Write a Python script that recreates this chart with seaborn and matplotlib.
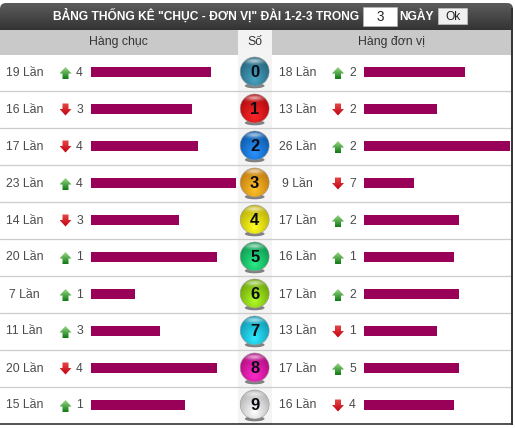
import numpy as np
import pandas as pd
import matplotlib
matplotlib.use("Agg")
import matplotlib.pyplot as plt
from matplotlib.patches import Circle, Ellipse, FancyBboxPatch, Polygon, Rectangle
import seaborn as sns

digits = ["0", "1", "2", "3", "4", "5", "6", "7", "8", "9"]
tens_counts = [19, 16, 17, 23, 14, 20, 7, 11, 20, 15]
tens_gaps = [4, 3, 4, 4, 3, 1, 1, 3, 4, 1]
tens_trend = ["up", "down", "down", "up", "down", "up", "up", "up", "down", "up"]
unit_counts = [18, 13, 26, 9, 17, 16, 17, 13, 17, 16]
unit_gaps = [2, 2, 2, 7, 2, 1, 2, 1, 5, 4]
unit_trend = ["up", "down", "up", "down", "up", "up", "up", "down", "up", "down"]
ball_colors = ["#2f85a3", "#e80d10", "#0f74dc", "#ffa010", "#f8e808",
               "#10c868", "#90d80c", "#14c8ee", "#e810a8", "#efefef"]

W, H = 515, 428
ROW_TOP, ROW_H = 53.5, 37.0
BAR_COLOR = "#990057"
TEXT = "#4a4a4a"

sns.set_theme(style="white")
plt.rcParams["font.family"] = ["Liberation Sans", "DejaVu Sans"]

fig = plt.figure(figsize=(W / 100, H / 100), dpi=100, facecolor="white")
canvas = fig.add_axes([0, 0, 1, 1])
canvas.set_xlim(0, W)
canvas.set_ylim(H, 0)
canvas.axis("off")


def px(size):
    return size * 0.72


def rgb(hex_color):
    return np.array(matplotlib.colors.to_rgb(hex_color))


def draw_ball(cx, cy, r, color, label):
    canvas.add_patch(Ellipse((cx, cy + r - 0.2), 2 * r * 0.68, 5, color="#333333", alpha=0.6, lw=0, zorder=3))
    yy, xx = np.mgrid[-1:1:96j, -1:1:96j]
    base = rgb(color)
    dark = base * 0.74
    bright = np.clip(base * 1.05 + 0.10, 0, 1)
    t = np.clip(np.hypot(xx, (yy - 0.5) * 0.85) / 1.3, 0, 1)[..., None]
    img = bright * (1 - t) + dark * t
    gloss = np.exp(-((xx / 0.62) ** 2 + ((yy + 0.74) / 0.18) ** 2))[..., None]
    img = np.clip(img * (1 - 0.6 * gloss) + 0.6 * gloss, 0, 1)
    im = canvas.imshow(img, extent=(cx - r, cx + r, cy + r, cy - r), zorder=4, aspect="auto", interpolation="bilinear")
    im.set_clip_path(Circle((cx, cy), r, transform=canvas.transData))
    canvas.add_patch(Circle((cx, cy), r, fill=False, ec="#9a9a9a", lw=0.4, zorder=5))
    canvas.text(cx, cy + 0.7, label, ha="center", va="center", fontsize=px(16.5), fontweight="bold", color="#0a0a14", zorder=6)


def draw_arrow(cx, cy, trend):
    # Small block arrow next to each gap figure, shaded from top to bottom
    if trend == "up":
        pts = [(cx, cy - 5), (cx + 6, cy + 1.5), (cx + 3, cy + 1.5), (cx + 3, cy + 7),
               (cx - 3, cy + 7), (cx - 3, cy + 1.5), (cx - 6, cy + 1.5)]
        top, bottom = rgb("#a4e08c"), rgb("#0f7a14")
    else:
        pts = [(cx, cy + 6.5), (cx + 6, cy), (cx + 3, cy), (cx + 3, cy - 5.5),
               (cx - 3, cy - 5.5), (cx - 3, cy), (cx - 6, cy)]
        top, bottom = rgb("#e84848"), rgb("#c00010")
    ramp = np.linspace(0, 1, 32)[:, None, None]
    shade = top * (1 - ramp) + bottom * ramp
    im = canvas.imshow(shade, extent=(cx - 6, cx + 6, cy + 7, cy - 5.5), aspect="auto", zorder=3)
    im.set_clip_path(Polygon(pts, closed=True, transform=canvas.transData))


# Header band with its vertical dark gradient
gradient = np.linspace(0.36, 0.20, 64)[:, None, None] * np.ones((64, 1, 3))
head = canvas.imshow(gradient, extent=(0, 513, 30, 3), aspect="auto", zorder=1)
head.set_clip_path(FancyBboxPatch((0, 3), 513, 40, boxstyle="round,pad=0,rounding_size=6", transform=canvas.transData))

# Column heading row and the pale column behind the balls
canvas.add_patch(Rectangle((0, 30), 512, 24.5, fc="#c9c9c9", ec="none", zorder=1))
canvas.add_patch(Rectangle((238, 30), 34, 24.5, fc="#f3f3f3", ec="none", zorder=1))
canvas.add_patch(Rectangle((238, 54.5), 34, 370, fc="#f4f4f4", ec="none", zorder=1))

# Outer frame on the right and bottom
canvas.plot([512.3, 512.3], [8, 424.5], color="#333333", lw=1.4, zorder=7, solid_capstyle="butt")
canvas.plot([0, 513], [424.3, 424.3], color="#333333", lw=1.2, zorder=7, solid_capstyle="butt")

canvas.text(206, 15.5, 'BẢNG THỐNG KÊ "CHỤC - ĐƠN VỊ" ĐÀI 1-2-3 TRONG', ha="center", va="center",
            fontsize=px(12), fontweight="bold", color="white", zorder=3)
canvas.add_patch(Rectangle((363, 6.5), 34, 19, fc="white", ec="#bbbbbb", lw=0.4, zorder=3))
canvas.text(380, 16.8, "3", ha="center", va="center", fontsize=px(13.5), color="#222222", zorder=4)
canvas.text(417, 16.5, "NGÀY", ha="center", va="center", fontsize=px(12), fontweight="bold", color="white", zorder=3)
canvas.add_patch(Rectangle((438, 8), 29, 16, fc="#f0f0f0", ec="#cccccc", lw=0.4, zorder=3))
canvas.text(452.5, 16.5, "Ok", ha="center", va="center", fontsize=px(12), color="#222222", zorder=4)

canvas.text(118, 42, "Hàng chục", ha="center", va="center", fontsize=px(12.3), color="#333333", zorder=3)
canvas.text(255, 42, "Số", ha="center", va="center", fontsize=px(12.3), color="#333333", zorder=3)
canvas.text(391, 42, "Hàng đơn vị", ha="center", va="center", fontsize=px(12.3), color="#333333", zorder=3)

for i, digit in enumerate(digits):
    cy = ROW_TOP + ROW_H * (i + 0.5)
    if i < 9:
        canvas.plot([0, 512], [ROW_TOP + ROW_H * (i + 1)] * 2, color="#cccccc", lw=0.9, zorder=2)
    draw_ball(254.7, cy - 0.5, 14.5, ball_colors[i], digit)

    canvas.text(24.5, cy + 0.5, f"{tens_counts[i]} Lần", ha="center", va="center", fontsize=px(12.3), color=TEXT, zorder=3)
    draw_arrow(65.5, cy, tens_trend[i])
    canvas.text(79.5, cy + 0.5, str(tens_gaps[i]), ha="center", va="center", fontsize=px(12.3), color=TEXT, zorder=3)

    canvas.text(297.5, cy + 0.5, f"{unit_counts[i]} Lần", ha="center", va="center", fontsize=px(12.3), color=TEXT, zorder=3)
    draw_arrow(338, cy, unit_trend[i])
    canvas.text(352.5, cy + 0.5, str(unit_gaps[i]), ha="center", va="center", fontsize=px(12.3), color=TEXT, zorder=3)


def bar_panel(left, width, values, xmax):
    ax = fig.add_axes([left / W, 1 - (ROW_TOP + ROW_H * 10) / H, width / W, ROW_H * 10 / H])
    ax.patch.set_alpha(0)
    frame = pd.DataFrame({"digit": digits, "count": values})
    sns.barplot(data=frame, x="count", y="digit", order=digits, orient="h", color=BAR_COLOR,
                saturation=1, width=10.5 / ROW_H, linewidth=0, ax=ax)
    ax.set_xlim(0, xmax)
    ax.set_ylim(9.5, -0.5)
    ax.axis("off")
    return ax


bar_panel(90.6, 145.4, tens_counts, 23)
bar_panel(363.6, 146.4, unit_counts, 26)

fig.savefig("out.png", dpi=100, facecolor="white")
